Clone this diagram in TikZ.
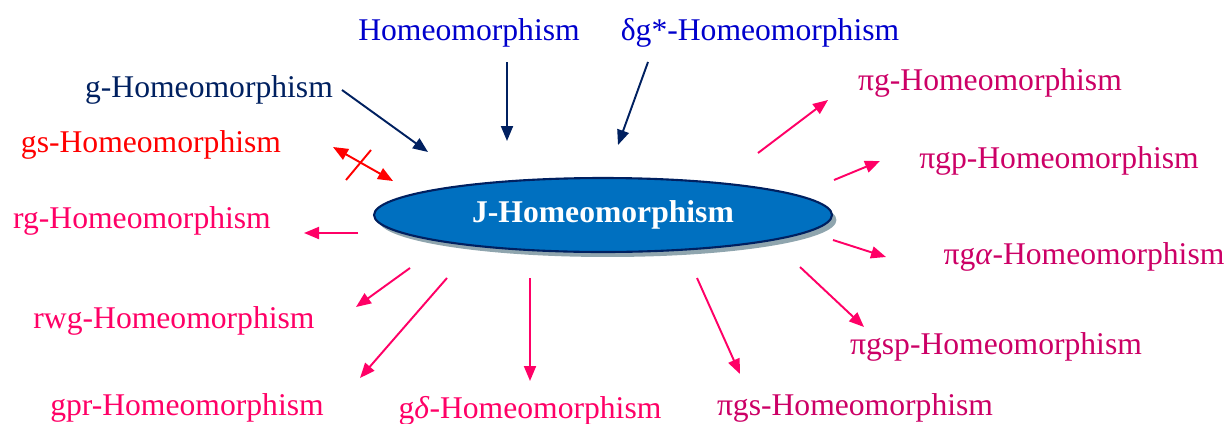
\documentclass[tikz,border=0pt]{standalone}
\usepackage{fontspec}
\setmainfont{Liberation Serif}
\usepackage{tikz}
\usetikzlibrary{arrows.meta,shapes.geometric,shadows}
\definecolor{navy}{HTML}{002060}
\definecolor{linkblue}{HTML}{0000CC}
\definecolor{hotpink}{HTML}{FF0066}
\definecolor{crimson}{HTML}{CC0066}
\definecolor{core}{HTML}{0070C0}
\definecolor{shade}{HTML}{8FA5AE}
\tikzset{
  term/.style={font=\fontsize{18}{22}\selectfont,inner sep=0pt},
  hub/.style={ellipse,draw=navy,line width=1.2pt,fill=core,text=white,
    font=\fontsize{18}{22}\selectfont\bfseries,minimum width=9.16cm,minimum height=1.48cm,
    drop shadow={shadow xshift=0.9mm,shadow yshift=-1mm,fill=shade,opacity=1}},
  inarrow/.style={-{Triangle[length=3mm,width=2.4mm]},draw=navy,line width=1.1pt},
  outarrow/.style={-{Triangle[length=3mm,width=2.4mm]},draw=hotpink,line width=1.1pt}
}
\begin{document}
\begin{tikzpicture}[x=0.02cm,y=-0.02cm]
  \useasboundingbox (0,0) rectangle (1229,423);
  \node[hub] (j) at (603,215) {J-Homeomorphism};

  % sources
  \node[term,text=linkblue] (homeo) at (469,33) {Homeomorphism};
  \node[term,text=linkblue] (dgs) at (760,33) {δg*-Homeomorphism};
  \node[term,text=navy] (g) at (209,90) {g-Homeomorphism};
  \node[term,text=red] (gs) at (151,145) {gs-Homeomorphism};

  % targets
  \node[term,text=hotpink] (rg) at (142,221) {rg-Homeomorphism};
  \node[term,text=hotpink] (rwg) at (174,321) {rwg-Homeomorphism};
  \node[term,text=hotpink] (gpr) at (187,408) {gpr-Homeomorphism};
  \node[term,text=hotpink] (gd) at (530,411) {g\textit{δ}-Homeomorphism};
  \node[term,text=crimson] (pgs) at (855,408) {πgs-Homeomorphism};
  \node[term,text=crimson] (pgsp) at (996,347) {πgsp-Homeomorphism};
  \node[term,text=crimson] (pga) at (1084,257) {πg\textit{α}-Homeomorphism};
  \node[term,text=crimson] (pgp) at (1059,161) {πgp-Homeomorphism};
  \node[term,text=crimson] (pg) at (990,83) {πg-Homeomorphism};

  % arrow ends
  \coordinate (g1) at (342,90);   \coordinate (g2) at (428,152);
  \coordinate (h1) at (507,62);   \coordinate (h2) at (507,141);
  \coordinate (d1) at (648,62);   \coordinate (d2) at (618,145);
  \coordinate (s1) at (333,147);  \coordinate (s2) at (393,181);
  \coordinate (x1) at (346,180);  \coordinate (x2) at (371,150);
  \coordinate (rg1) at (358,233); \coordinate (rg2) at (304,233);
  \coordinate (rw1) at (410,268); \coordinate (rw2) at (356,307);
  \coordinate (gp1) at (447,278); \coordinate (gp2) at (360,378);
  \coordinate (gd1) at (530,278); \coordinate (gd2) at (530,381);
  \coordinate (ps1) at (697,278); \coordinate (ps2) at (740,374);
  \coordinate (pp1) at (800,267); \coordinate (pp2) at (864,327);
  \coordinate (pa1) at (833,240); \coordinate (pa2) at (886,257);
  \coordinate (pq1) at (834,180); \coordinate (pq2) at (880,161);
  \coordinate (pg1) at (758,153); \coordinate (pg2) at (828,100);

  \draw[inarrow] (g1) -- (g2);
  \draw[inarrow] (h1) -- (h2);
  \draw[inarrow] (d1) -- (d2);
  \draw[{Triangle[length=3mm,width=2.4mm]}-{Triangle[length=3mm,width=2.4mm]},draw=red,line width=1.1pt] (s1) -- (s2);
  \draw[red,line width=1.1pt] (x1) -- (x2);
  \draw[outarrow] (rg1) -- (rg2);
  \draw[outarrow] (rw1) -- (rw2);
  \draw[outarrow] (gp1) -- (gp2);
  \draw[outarrow] (gd1) -- (gd2);
  \draw[outarrow] (ps1) -- (ps2);
  \draw[outarrow] (pp1) -- (pp2);
  \draw[outarrow] (pa1) -- (pa2);
  \draw[outarrow] (pq1) -- (pq2);
  \draw[outarrow] (pg1) -- (pg2);
\end{tikzpicture}
\end{document}
